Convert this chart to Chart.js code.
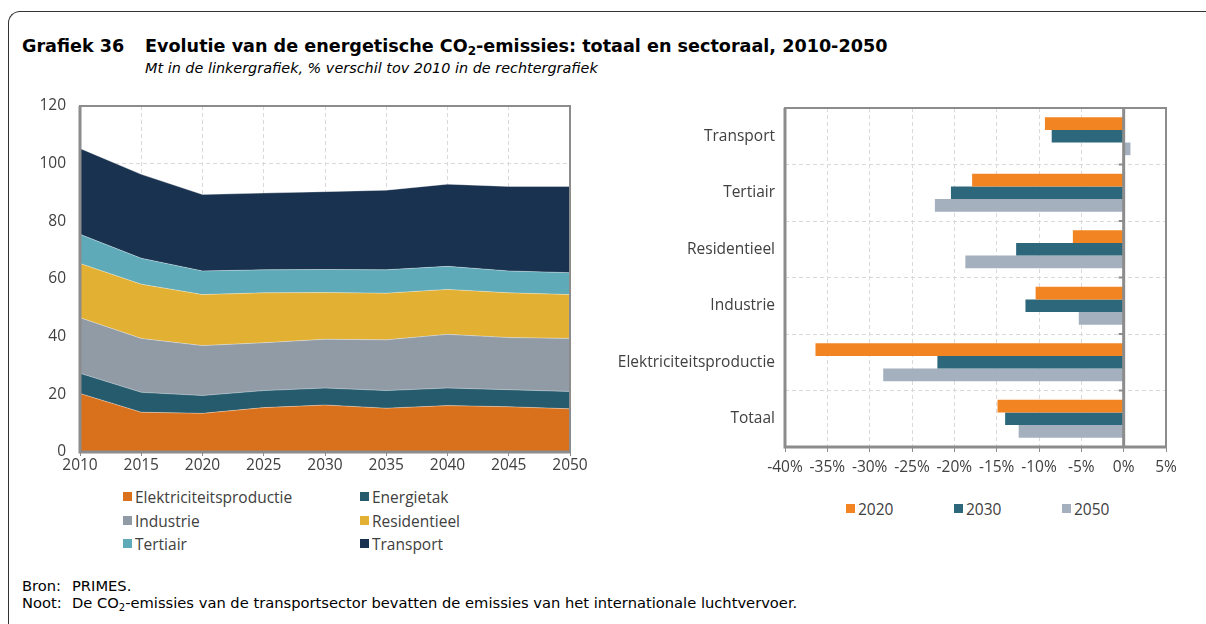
<!DOCTYPE html>
<html>
<head>
<meta charset="UTF-8">
<title>Grafiek 36</title>
<script src="https://cdn.jsdelivr.net/npm/chart.js"></script>
<style>
    body { margin: 0; width: 1206px; height: 624px; position: relative; background: #fff; overflow: hidden;
           font-family: "Open Sans", sans-serif; color: #404040; }
    .frame { position: absolute; left: 8px; top: 11px; width: 1300px; height: 700px;
             border-left: 1px solid #333; border-top: 1px solid #333; border-top-left-radius: 12px; }
    .title { position: absolute; left: 22px; top: 36px; font-family: "DejaVu Sans", sans-serif;
             font-weight: bold; font-size: 17.6px; color: #000; white-space: nowrap; }
    .title .num { display: inline-block; width: 123px; }
    .title sub { font-size: 12px; vertical-align: -3px; line-height: 0; }
    .subtitle { position: absolute; left: 145px; top: 60px; font-family: "DejaVu Sans", sans-serif;
                font-style: italic; font-size: 14.4px; color: #000; white-space: nowrap; }
    .box { position: absolute; }
    .legend { position: absolute; font-size: 15.5px; color: #404040; white-space: nowrap; }
    .legend .item { position: absolute; height: 20px; line-height: 20px; }
    .legend .sw { position: absolute; left: 0; top: 5px; width: 9px; height: 9px; }
    .legend .tx { position: absolute; left: 12px; top: 0; }
    .foot { position: absolute; left: 22px; font-family: "DejaVu Sans", sans-serif; font-size: 14.7px; color: #000; white-space: nowrap; }
    .foot span { display: inline-block; width: 50px; }
    .foot sub { font-size: 10px; vertical-align: -3px; line-height: 0; }
</style>
</head>
<body>
<div class="frame"></div>
<div class="title"><span class="num">Grafiek 36</span>Evolutie van de energetische CO<sub>2</sub>-emissies: totaal en sectoraal, 2010-2050</div>
<div class="subtitle">Mt in de linkergrafiek, % verschil tov 2010 in de rechtergrafiek</div>

<div class="box" style="left:20px; top:96px; width:580px; height:382px;"><canvas id="areaChart"></canvas></div>
<div class="box" style="left:600px; top:96px; width:600px; height:382px;"><canvas id="barChart"></canvas></div>

<div class="legend" id="legendLeft" style="left:123px; top:487px;"></div>
<div class="legend" id="legendRight" style="left:846px; top:499px;"></div>

<div class="foot" style="top:577px;"><span>Bron:</span>PRIMES.</div>
<div class="foot" style="top:594px;"><span>Noot:</span>De CO<sub>2</sub>-emissies van de transportsector bevatten de emissies van het internationale luchtvervoer.</div>

<script>
    // linkergrafiek: Mt CO2 per sector
    const years = ['2010', '2015', '2020', '2025', '2030', '2035', '2040', '2045', '2050'];
    const elektriciteit = [20.3, 13.8, 13.4, 15.4, 16.3, 15.2, 16.1, 15.7, 15.0];
    const energietak    = [7.0, 6.9, 6.2, 5.9, 5.9, 6.1, 6.1, 5.9, 6.0];
    const industrie     = [19.3, 18.7, 17.3, 16.6, 16.9, 17.6, 18.6, 18.1, 18.4];
    const residentieel  = [18.8, 18.8, 17.7, 17.3, 16.2, 16.2, 15.6, 15.5, 15.2];
    const tertiair      = [10.1, 9.0, 8.2, 8.0, 8.0, 8.1, 8.0, 7.6, 7.6];
    const transport     = [29.8, 29.1, 26.5, 26.6, 27.0, 27.6, 28.5, 29.3, 29.9];

    // rechtergrafiek: % verschil tov 2010
    const sectors = ['Transport', 'Tertiair', 'Residentieel', 'Industrie', 'Elektriciteitsproductie', 'Totaal'];
    const pct2020 = [-9.3, -17.9, -6.0, -10.4, -36.4, -14.9];
    const pct2030 = [-8.5, -20.4, -12.7, -11.6, -22.0, -14.0];
    const pct2050 = [0.8, -22.3, -18.7, -5.3, -28.4, -12.4];

    const axisGray = '#8c8c8c';
    const gridGray = '#d9d9d9';
    const tickFont = { family: 'Open Sans', size: 15.5 };

    // vaste maat voor de assen, zonder extra marge voor labels
    function fixAxis(size) {
        return s => {
            if (s.isHorizontal()) s.height = size; else s.width = size;
            s.paddingTop = 0; s.paddingBottom = 0; s.paddingLeft = 0; s.paddingRight = 0;
        };
    }

    // rand rond het plotgebied
    const frameBox = {
        id: 'frameBox',
        afterDraw(chart) {
            const a = chart.chartArea, c = chart.ctx;
            c.save();
            c.strokeStyle = axisGray;
            c.lineWidth = 2;
            c.strokeRect(a.left, a.top, a.right - a.left, a.bottom - a.top);
            c.lineWidth = 3;
            c.beginPath();
            c.moveTo(a.left, a.top); c.lineTo(a.left, a.bottom); c.lineTo(a.right, a.bottom);
            c.stroke();
            c.restore();
        }
    };

    const areaSeries = [
        { label: 'Elektriciteitsproductie', data: elektriciteit, color: '#d9711c' },
        { label: 'Energietak', data: energietak, color: '#265b6e' },
        { label: 'Industrie', data: industrie, color: '#919ba6' },
        { label: 'Residentieel', data: residentieel, color: '#e2b033' },
        { label: 'Tertiair', data: tertiair, color: '#5faab9' },
        { label: 'Transport', data: transport, color: '#19324f' }
    ];

    new Chart(document.getElementById('areaChart'), {
        type: 'line',
        data: {
            labels: years,
            datasets: areaSeries.map((s, i) => ({
                label: s.label,
                data: s.data,
                backgroundColor: s.color,
                borderColor: 'rgba(255,255,255,0.35)',
                borderWidth: 1,
                pointRadius: 0,
                tension: 0,
                fill: i === 0 ? 'origin' : '-1'
            }))
        },
        options: {
            responsive: true,
            maintainAspectRatio: false,
            animation: false,
            layout: { padding: { top: 10, right: 30, left: 0, bottom: 0 } },
            plugins: { legend: { display: false }, tooltip: { enabled: false } },
            scales: {
                x: {
                    offset: false,
                    grid: { color: gridGray, drawTicks: true, tickLength: 4, tickColor: axisGray },
                    border: { display: false, dash: [4, 3] },
                    ticks: { color: '#404040', font: tickFont, padding: 0, maxRotation: 0 },
                    afterFit: fixAxis(26)
                },
                y: {
                    stacked: true,
                    min: 0, max: 120,
                    ticks: { stepSize: 20, color: '#404040', font: tickFont, padding: 14 },
                    grid: { color: gridGray, drawTicks: false },
                    border: { display: false, dash: [4, 3] },
                    afterFit: fixAxis(60)
                }
            }
        },
        plugins: [frameBox]
    });

    // 0%-lijn met streepjes op de categoriegrenzen
    const zeroLine = {
        id: 'zeroLine',
        afterDatasetsDraw(chart) {
            const x = chart.scales.x.getPixelForValue(0);
            const y = chart.scales.y, a = chart.chartArea, c = chart.ctx;
            c.save();
            c.strokeStyle = axisGray;
            c.lineWidth = 3;
            c.beginPath();
            c.moveTo(x, a.top); c.lineTo(x, a.bottom);
            c.stroke();
            c.lineWidth = 2;
            for (let i = 0; i < sectors.length - 1; i++) {
                const yb = (y.getPixelForValue(i) + y.getPixelForValue(i + 1)) / 2;
                c.beginPath();
                c.moveTo(x - 5, yb); c.lineTo(x, yb);
                c.stroke();
            }
            c.restore();
        }
    };

    const barSeries = [
        { label: '2020', data: pct2020, color: '#f28522' },
        { label: '2030', data: pct2030, color: '#2d677c' },
        { label: '2050', data: pct2050, color: '#a5b0be' }
    ];

    new Chart(document.getElementById('barChart'), {
        type: 'bar',
        data: {
            labels: sectors,
            datasets: barSeries.map(s => ({
                label: s.label,
                data: s.data,
                backgroundColor: s.color,
                borderWidth: 0,
                barPercentage: 1,
                categoryPercentage: 0.67
            }))
        },
        options: {
            indexAxis: 'y',
            responsive: true,
            maintainAspectRatio: false,
            animation: false,
            layout: { padding: { top: 12, right: 34, left: 0, bottom: 0 } },
            plugins: { legend: { display: false }, tooltip: { enabled: false } },
            scales: {
                x: {
                    min: -40, max: 5,
                    ticks: { stepSize: 5, color: '#404040', font: tickFont, padding: 6, callback: v => v + '%' },
                    grid: { color: gridGray, tickLength: 5, tickColor: axisGray },
                    border: { display: false, dash: [4, 3] },
                    afterFit: fixAxis(31)
                },
                y: {
                    ticks: { color: '#404040', font: tickFont, padding: 10 },
                    grid: { color: gridGray, drawTicks: false, offset: true },
                    border: { display: false, dash: [4, 3] },
                    afterFit: fixAxis(185)
                }
            }
        },
        plugins: [frameBox, zeroLine]
    });

    // legenda's
    function buildLegend(el, series, cols, dx, dy) {
        series.forEach((s, i) => {
            const item = document.createElement('div');
            item.className = 'item';
            item.style.left = (i % cols) * dx + 'px';
            item.style.top = Math.floor(i / cols) * dy + 'px';
            item.innerHTML = '<div class="sw" style="background:' + s.color + '"></div><div class="tx">' + s.label + '</div>';
            el.appendChild(item);
        });
    }
    buildLegend(document.getElementById('legendLeft'), areaSeries, 2, 237, 23.5);
    buildLegend(document.getElementById('legendRight'), barSeries, 3, 108, 0);
</script>
</body>
</html>
